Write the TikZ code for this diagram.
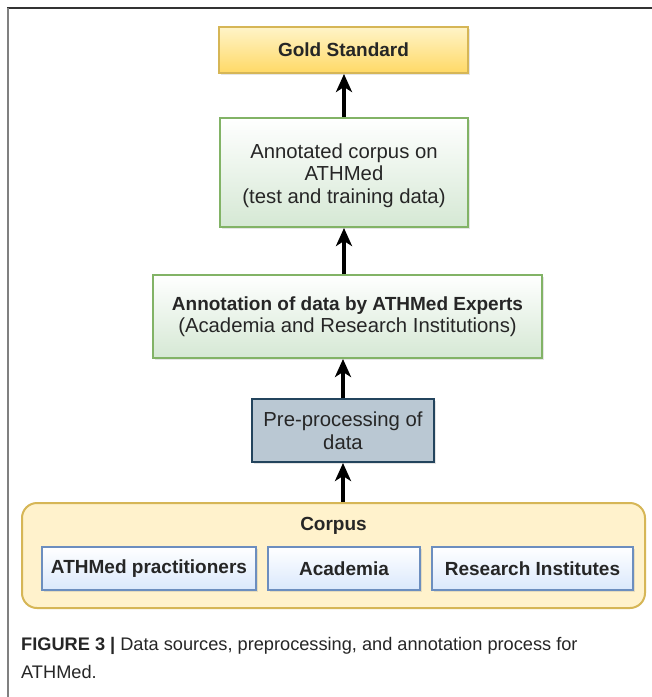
\documentclass[tikz,border=0pt]{standalone}
\usepackage{fontspec}
\setmainfont{Liberation Sans}
\usetikzlibrary{arrows.meta,shadows}
\definecolor{goldTop}{HTML}{FFF4C8}
\definecolor{goldBot}{HTML}{FFD966}
\definecolor{goldLine}{HTML}{D6B656}
\definecolor{greenFill}{HTML}{D5E8D4}
\definecolor{greenLine}{HTML}{82B366}
\definecolor{slateFill}{HTML}{BAC8D3}
\definecolor{slateLine}{HTML}{23445D}
\definecolor{corpFill}{HTML}{FFF2CC}
\definecolor{blueFill}{HTML}{DAE8FC}
\definecolor{blueLine}{HTML}{6C8EBF}
\newcommand{\regsz}{\fontsize{20.3}{22.5}\selectfont}
\newcommand{\boldsz}{\fontsize{19}{22.5}\selectfont\bfseries}
\tikzset{
  shad/.style={drop shadow={opacity=0.2,shadow xshift=2pt,shadow yshift=-2pt}},
  txt/.style={font=\regsz,align=center,inner sep=0pt,text=black!85},
  goldbox/.style={txt,draw=goldLine,line width=2pt,top color=goldTop,bottom color=goldBot,shad},
  greenbox/.style={txt,draw=greenLine,line width=2pt,top color=white,bottom color=greenFill,shad},
  slatebox/.style={txt,draw=slateLine,line width=2pt,fill=slateFill,shad},
  corpbox/.style={draw=goldLine,line width=2pt,fill=corpFill,rounded corners=15pt},
  bluebox/.style={txt,draw=blueLine,line width=2pt,top color=white,bottom color=blueFill,shad},
  arr/.style={line width=4.5pt,-{Stealth[length=18pt,width=16pt,inset=5pt]}},
  captxt/.style={anchor=west,inner sep=0pt,font=\fontsize{18.2}{20}\selectfont,text=black!85},
}
\begin{document}
\begin{tikzpicture}[x=1pt,y=-1pt]
\useasboundingbox (0,0) rectangle (652,697);
\fill[white] (0,0) rectangle (652,697);
% frame lines
\draw[line width=1.5pt,black!80] (7,8) -- (652,8);
\draw[line width=2pt,black!50] (7.5,8) -- (7.5,697);

\node[goldbox,minimum width=249pt,minimum height=46pt] (gold) at (343.5,50) {\boldsz Gold Standard};
\node[greenbox,minimum width=248pt,minimum height=109pt] (annc) at (344,172.5) {\parbox{240pt}{\centering\vspace*{6pt}Annotated corpus on\\ATHMed\\(test and training data)}};
\node[greenbox,minimum width=389pt,minimum height=83pt] (annot) at (347.5,316.5) {{\boldsz Annotation of data by ATHMed Experts}\\(Academia and Research Institutions)};
\node[slatebox,minimum width=182pt,minimum height=63pt] (pre) at (343,430.5) {Pre-processing of\\data};
\node[corpbox,minimum width=623pt,minimum height=105pt] (corpus) at (333.5,555.5) {};
\node[txt,font=\boldsz] (corplab) at (333.5,526) {Corpus};
\node[bluebox,minimum width=214pt,minimum height=43pt] (prac) at (149,568.5) {\boldsz ATHMed practitioners};
\node[bluebox,minimum width=152pt,minimum height=43pt] (acad) at (344,568.5) {\boldsz Academia};
\node[bluebox,minimum width=201pt,minimum height=43pt] (resi) at (532.5,568.5) {\boldsz Research Institutes};

\draw[arr] (corpus.north -| pre.south) -- (pre.south);
\draw[arr] (pre.north) -- (pre.north |- annot.south);
\draw[arr] (annot.north -| annc.south) -- (annc.south);
\draw[arr] (annc.north) -- (annc.north |- gold.south);

\node[captxt] (cap1) at (21,646) {\textbf{FIGURE 3 |} Data sources, preprocessing, and annotation process for};
\node[captxt] (cap2) at (21,672) {ATHMed.};
\end{tikzpicture}
\end{document}
